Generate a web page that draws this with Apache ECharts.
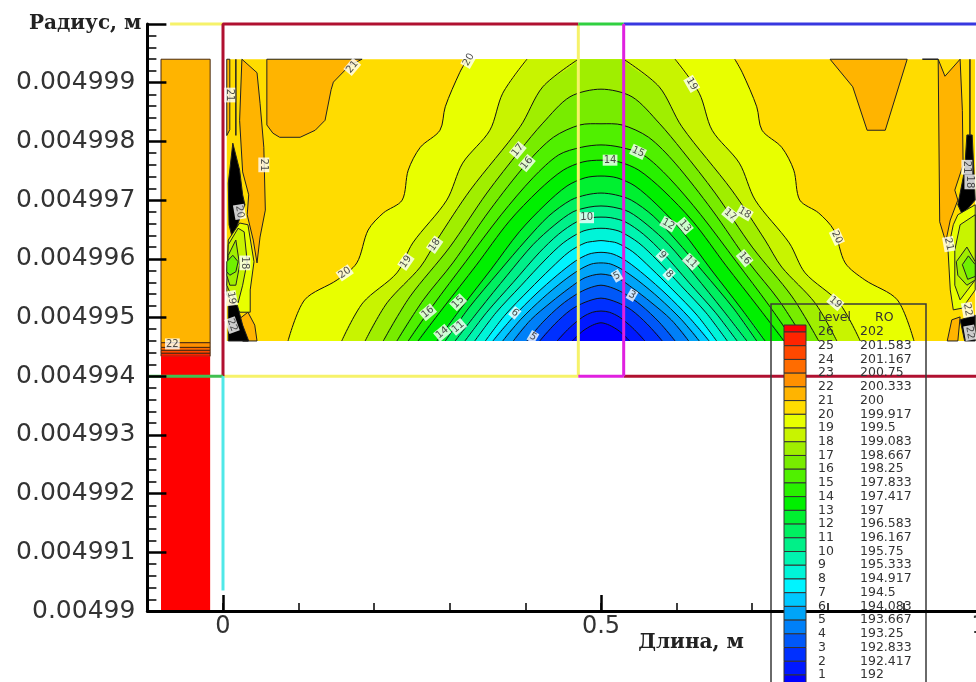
<!DOCTYPE html>
<html><head><meta charset="utf-8">
<style>html,body{margin:0;padding:0;background:#fff;overflow:hidden}#c{width:976px;height:682px}</style>
<script src="https://cdn.jsdelivr.net/npm/echarts@6/dist/echarts.min.js"></script>
</head><body><div id="c"></div>
<script>
// Legend table
const legendLevels=[26,25,24,23,22,21,20,19,18,17,16,15,14,13,12,11,10,9,8,7,6,5,4,3,2,1];
const legendRO=['202','201.583','201.167','200.75','200.333','200','199.917','199.5','199.083','198.667','198.25','197.833','197.417','197','196.583','196.167','195.75','195.333','194.917','194.5','194.083','193.667','193.25','192.833','192.417','192'];
// colour of the band directly below each level (index = level-1), then the band above 26
const bandColors=['#0000ff','#0018ff','#0030ff','#0058f8','#0080f8','#00a4f8','#00c8ff','#00f4ff','#00f4d8','#00f4b0','#00f088','#00f060','#00f030','#00f000','#28f000','#50f000','#78ec00','#a0ee00','#c8f400','#e8ff00','#ffdc00','#ffb400','#ff9000','#ff6c00','#ff4800','#ff2400','#ff0000'];
// Radius values are written as micrometres above 0.00499 m
const radiusBase=0.00499, radiusUnit=1e-6;
// Contours around x=0.5: [half-width in m, radius]
const level20=[[.414,4.6],[.392,5.30],[.349,5.64],[.323,5.93],[.308,6.49],[.288,6.78],[.263,7.00],[.255,7.51],[.239,7.90],[.213,8.19],[.206,8.59],[.187,9.17],[.177,9.4]];
const level19=[[.343,4.6],[.315,5.25],[.270,5.76],[.249,6.27],[.204,7.00],[.183,7.63],[.147,8.19],[.130,8.82],[.098,9.4]];
const level18=[[.312,4.6],[.283,5.25],[.239,5.86],[.217,6.32],[.173,7.17],[.107,8.25],[.077,8.93],[.030,9.4]];
const level17=[[.288,4.6],[.253,5.35],[.200,6.20],[.151,7.12],[.107,7.85],[.077,8.31],[.041,8.76],[0,8.89]];
const level16=[[.270,4.6],[.235,5.30],[.196,5.93],[.147,6.83],[.098,7.63],[.063,8.07],[.028,8.28],[0,8.30]];
const level15=[[.255,4.6],[.222,5.21],[.179,5.95],[.132,6.75],[.090,7.38],[.056,7.77],[.026,7.90],[0,7.94]];
const level14=[[.242,4.6],[.209,5.16],[.165,5.89],[.122,6.63],[.082,7.17],[.050,7.51],[.024,7.65],[0,7.68]];
const level13=[[.217,4.6],[.185,5.16],[.146,5.81],[.108,6.46],[.074,6.92],[.045,7.24],[.021,7.38],[0,7.41]];
const level12=[[.206,4.6],[.175,5.16],[.135,5.78],[.099,6.32],[.069,6.73],[.040,7.00],[.019,7.09],[0,7.12]];
const level11=[[.193,4.6],[.161,5.13],[.124,5.72],[.090,6.24],[.061,6.58],[.037,6.80],[.016,6.88],[0,6.90]];
const level10=[[.180,4.6],[.151,5.09],[.116,5.60],[.082,6.10],[.056,6.42],[.032,6.63],[.013,6.70],[0,6.71]];
const level9=[[.167,4.6],[.139,5.08],[.106,5.54],[.074,5.98],[.050,6.27],[.026,6.46],[.011,6.51],[0,6.52]];
const level8=[[.153,4.6],[.127,5.04],[.095,5.47],[.066,5.84],[.042,6.12],[.021,6.27],[.008,6.30],[0,6.31]];
const level7=[[.143,4.6],[.116,5.01],[.086,5.40],[.058,5.72],[.034,5.96],[.016,6.08],[0,6.11]];
const level6=[[.130,4.6],[.106,4.97],[.077,5.33],[.050,5.62],[.029,5.81],[.013,5.91],[0,5.93]];
const level5=[[.116,4.6],[.093,4.96],[.066,5.26],[.042,5.50],[.024,5.66],[.011,5.72],[0,5.74]];
const level4=[[.098,4.6],[.077,4.92],[.053,5.21],[.032,5.40],[.016,5.50],[0,5.55]];
const level3=[[.081,4.6],[.061,4.89],[.040,5.13],[.021,5.26],[0,5.33]];
const level2=[[.058,4.6],[.042,4.82],[.024,5.01],[.011,5.09],[0,5.11]];
const level1=[[.038,4.6],[.024,4.77],[.011,4.87],[0,4.91]];
const archLevels=[level20,level19,level18,level17,level16,level15,level14,level13,level12,level11,level10,level9,level8,level7,level6,level5,level4,level3,level2,level1];
// Field background and left-hand block: [x,r]
const fieldRect=[[.005,9.4],[.995,9.4],[.995,4.6],[.005,4.6]];
const blockX=[-.082,-.017];
const blockBands=[[9.4,4.57,'#ffb400'],[4.57,4.49,'#ff9000'],[4.49,4.44,'#ff6c00'],[4.44,4.39,'#ff4800'],[4.39,4.34,'#ff2400'],[4.34,0,'#ff0000']];
// Closed contour islands near the ends: [colour, points]
const stripLeft=['#ffb400',[[.005,9.4],[.009,9.4],[.009,8.2],[.005,8.1]]];
const amberTop=['#ffb400',[[.058,9.4],[.058,8.28],[.066,8.14],[.075,8.07],[.102,8.07],[.122,8.19],[.135,8.36],[.143,8.88],[.146,9.01],[.168,9.30],[.184,9.4]]];
const amberLeft=['#ffb400',[[.025,9.4],[.045,9.17],[.049,8.65],[.054,7.9],[.056,6.83],[.049,6.37],[.045,5.93],[.040,6.32],[.032,6.75],[.034,7.09],[.026,7.48],[.022,8.36]]];
const blackLeft=['#000000',[[.013,7.97],[.022,7.51],[.026,7.09],[.029,6.92],[.020,6.61],[.013,6.32],[.008,6.58],[.007,7.29]]];
const greenL1=['#e8ff00',[[.007,6.32],[.022,6.61],[.033,6.58],[.041,5.95],[.036,5.47],[.036,5.09],[.022,5.09],[.012,5.30],[.005,5.38]]];
const greenL2=['#c8f400',[[.007,6.24],[.020,6.52],[.028,6.46],[.032,5.95],[.026,5.55],[.020,5.25],[.009,5.43],[.005,5.55]]];
const greenL3=['#a0ee00',[[.007,6.06],[.017,6.32],[.022,5.89],[.017,5.55],[.009,5.55],[.005,5.72]]];
const greenL4=['#70f000',[[.005,5.95],[.013,6.06],[.020,5.95],[.017,5.78],[.009,5.72],[.005,5.78]]];
const amberLow=['#ffb400',[[.033,5.09],[.042,4.87],[.045,4.6],[.026,4.6],[.020,4.96]]];
const orangeLow=['#ff9000',[[.022,4.99],[.033,4.6],[.026,4.6]]];
const blackLow=['#000000',[[.007,5.21],[.019,5.21],[.026,4.87],[.034,4.6],[.007,4.6]]];
const amberV=['#ffb400',[[.803,9.4],[.833,8.93],[.852,8.19],[.876,8.19],[.905,9.4]]];
const amberRight=['#ffb400',[[.946,9.4],[.955,9.11],[.975,9.4],[.978,8.53],[.979,7.6],[.968,7.17],[.972,7.0],[.962,6.66],[.956,6.29],[.948,6.63]]];
const blackRight=['#000000',[[.984,8.11],[.991,8.11],[.995,7.0],[.978,6.75],[.972,6.92],[.981,7.51]]];
const greenR1=['#e8ff00',[[.972,6.75],[.966,6.58],[.959,6.15],[.962,5.47],[.966,5.13],[.978,5.16],[.995,5.47],[.995,6.92]]];
const greenR2=['#c8f400',[[.975,6.58],[.968,6.15],[.968,5.55],[.975,5.30],[.995,5.64],[.995,6.75]]];
const greenR3=['#a0ee00',[[.970,5.95],[.984,6.2],[.995,5.95],[.995,5.64],[.984,5.55],[.972,5.72]]];
const greenR4=['#70f000',[[.978,5.9],[.986,6.05],[.995,5.9],[.995,5.7],[.985,5.65]]];
const amberLowR=['#ffb400',[[.958,4.6],[.964,4.96],[.975,5.01],[.972,4.6]]];
const blackLowR=['#000000',[[.975,4.96],[.995,5.04],[.995,4.6],[.981,4.6]]];
// Loose contour pieces
const looseContours=[[[.988,9.4],[.988,8.1]],[[.925,9.4],[.946,9.4]],[[.017,9.4],[.017,8.1]]];
// Block outlines: [colour, points]
const outlines=[
 ['#f6f26a',[[-.07,10],[0,10]]],
 ['#f6f26a',[[.47,10],[.47,4]]],
 ['#f6f26a',[[0,4],[.47,4]]],
 ['#b01030',[[0,4],[0,10],[.47,10]]],
 ['#b01030',[[.53,4],[1.1,4]]],
 ['#30d040',[[.47,10],[.53,10]]],
 ['#3838e0',[[.53,10],[1.1,10]]],
 ['#e020e0',[[.53,10],[.53,4]]],
 ['#e020e0',[[.47,4],[.53,4]]],
 ['#40c050',[[-.1,4],[0,4]]],
 ['#50e8e8',[[0,4],[0,.35]]]
];
// Contour labels
const labelTexts=['21','20','19','21','21','20','18','19','22','20','19','18','17','16','14','15','10','15','16','14','11','6','5','5','3','12','13','9','8','11','17','18','16','20','19','21','21','18','22','22','22'];
const labelX=[.171,.325,.620,.009,.054,.022,.029,.011,.012,.161,.242,.280,.390,.402,.512,.549,.481,.311,.271,.290,.311,.386,.410,.521,.541,.589,.611,.581,.590,.619,.671,.690,.690,.812,.810,.960,.984,.988,.985,.988,-.067];
const labelR=[9.27,9.39,8.98,8.79,7.60,6.80,5.93,5.33,4.87,5.76,5.95,6.24,7.85,7.63,7.68,7.82,6.70,5.26,5.09,4.74,4.84,5.08,4.67,5.71,5.38,6.59,6.56,6.06,5.74,5.95,6.75,6.78,6.01,6.37,5.26,6.25,7.56,7.31,5.13,4.74,4.55];
const labelAngle=[50,60,-60,-90,-90,-80,-90,-80,-70,35,55,55,50,50,0,-25,0,45,40,40,40,-40,-30,30,-30,-30,-50,-45,-45,-45,-40,-30,-50,-65,-40,-80,-90,-90,-80,-80,0];
// Axis values
const xMajor=[0,0.5,1];
const xMin=-0.1,xMax=1.1;

const rad=r=>radiusBase+r*radiusUnit;
const toData=p=>[p[0],rad(p[1])];
function poly(pts,fill,stroke){
  const data=pts.map(toData);
  return {type:'custom',coordinateSystem:'cartesian2d',xAxisIndex:0,yAxisIndex:0,z:2,silent:true,clip:false,encode:{x:0,y:1},data,
    renderItem:(p,api)=>p.dataIndex===0?{type:'polygon',shape:{points:data.map(q=>api.coord(q))},style:{fill,stroke:stroke||null,lineWidth:stroke?1:0}}:null};
}
// One arch: filled band below the level, with its contour line, smoothed and cut to the field
function arch(lv,fill){
  const closed=lv[lv.length-1][0]===0;
  const left=lv.map(p=>[0.5-p[0],p[1]]);
  const right=lv.slice(0,closed?-1:lv.length).reverse().map(p=>[0.5+p[0],p[1]]);
  const data=left.concat(right).map(toData);
  // the fill runs a little past the field edge so smoothing cannot round off its corners; the clip trims it
  const overrun=(p,r)=>toData([p[0],r]);
  const fillPts=[overrun(left[0],4.2)].concat(
    closed?[]:[],
    left.map(toData),
    closed?[]:[overrun(left[left.length-1],9.8),overrun(right[0],9.8)],
    right.map(toData),
    [overrun(right[right.length-1],4.2)]);
  return {type:'custom',coordinateSystem:'cartesian2d',xAxisIndex:0,yAxisIndex:0,z:2,silent:true,clip:false,encode:{x:0,y:1},data,
    renderItem:(p,api)=>{
      if(p.dataIndex!==0)return null;
      const a=api.coord(toData(fieldRect[0])),b=api.coord(toData(fieldRect[2]));
      const clipPath={type:'rect',shape:{x:a[0],y:a[1],width:b[0]-a[0],height:b[1]-a[1]}};
      const ln=pts=>({type:'polyline',shape:{points:pts.map(q=>api.coord(q)),smooth:0.3},style:{fill:null,stroke:'#111',lineWidth:1}});
      const lines=closed?[ln(data)]:[ln(left.map(toData)),ln(right.map(toData))];
      return {type:'group',children:[{type:'polygon',clipPath,shape:{points:fillPts.map(q=>api.coord(q)),smooth:0.3},style:{fill,stroke:null}}].concat(lines)};
    }};
}
function line(data,color,width,z){
  return {type:'line',xAxisIndex:0,yAxisIndex:0,data,showSymbol:false,symbol:'none',silent:true,clip:false,z,lineStyle:{color,width,cap:'butt'},emphasis:{disabled:true}};
}
const series=[];
series.push(poly(fieldRect,bandColors[20]));
blockBands.forEach(b=>series.push(poly([[blockX[0],b[0]],[blockX[1],b[0]],[blockX[1],b[1]],[blockX[0],b[1]]],b[2],b[1]>0?'#4a2a10':null)));
[stripLeft,amberTop,amberLeft,amberV,amberRight].forEach(i=>series.push(poly(i[1],i[0],'#222')));
archLevels.forEach((lv,i)=>series.push(arch(lv,bandColors[19-i])));
[blackLeft,greenL1,greenL2,greenL3,greenL4,amberLow,orangeLow,blackLow,blackRight,greenR1,greenR2,greenR3,greenR4,amberLowR,blackLowR].forEach(i=>series.push(poly(i[1],i[0],'#222')));
looseContours.forEach(c=>series.push(line(c.map(toData),'#222',1.5,3)));
outlines.forEach(o=>series.push(line(o[1].map(toData),o[0],3,4)));
series.push({type:'scatter',xAxisIndex:0,yAxisIndex:0,symbolSize:0,silent:true,z:6,
  data:labelTexts.map((t,i)=>({value:[labelX[i],rad(labelR[i])],label:{show:true,position:'inside',formatter:t,rotate:labelAngle[i],fontFamily:'DejaVu Sans',fontSize:10,color:'#222',backgroundColor:'#fff',padding:[1,1,0,1]}}))});

// Legend
const elements=[];
const rowY=i=>332+13.72*i;
elements.push({type:'rect',z:5,shape:{x:771,y:304,width:155,height:400},style:{fill:'transparent',stroke:'#3a3a3a',lineWidth:1.5}});
elements.push({type:'text',z:5,x:818,y:318,style:{text:'Level',font:'12.5px "DejaVu Sans"',fill:'#333',verticalAlign:'middle'}});
elements.push({type:'text',z:5,x:875,y:318,style:{text:'RO',font:'12.5px "DejaVu Sans"',fill:'#333',verticalAlign:'middle'}});
elements.push({type:'rect',z:20,shape:{x:784,y:325,width:22,height:7},style:{fill:bandColors[26],stroke:'#333',lineWidth:1}});
legendLevels.forEach((lv,i)=>{
  elements.push({type:'rect',z:20,shape:{x:784,y:rowY(i),width:22,height:13.72},style:{fill:bandColors[lv-1],stroke:'#333',lineWidth:1}});
  elements.push({type:'text',z:5,x:818,y:rowY(i),style:{text:String(lv),font:'12.5px "DejaVu Sans"',fill:'#333',verticalAlign:'middle'}});
  elements.push({type:'text',z:5,x:860,y:rowY(i),style:{text:legendRO[i],font:'12.5px "DejaVu Sans"',fill:'#333',verticalAlign:'middle'}});
});

const chart=echarts.init(document.getElementById('c'),null,{renderer:'canvas'});
chart.setOption({
  animation:false,backgroundColor:'#fff',
  grid:{left:147.4,top:24,width:907.2,height:587,containLabel:false,outerBoundsMode:'none'},
  tooltip:{show:false},
  xAxis:[
    {type:'value',position:'bottom',min:xMin,max:xMax,interval:0.1,z:10,splitLine:{show:false},
     axisLine:{show:true,onZero:false,lineStyle:{color:'#000',width:3}},
     axisTick:{show:true,inside:true,length:8,lineStyle:{color:'#000',width:1.5}},axisLabel:{show:false}},
    {type:'value',position:'bottom',min:xMin,max:xMax,z:10,splitLine:{show:false},
     name:'Длина, м',nameLocation:'middle',nameGap:22,nameMoveOverlap:false,
     nameTextStyle:{fontFamily:'DejaVu Serif',fontWeight:'bold',fontSize:20,color:'#222',padding:[0,0,0,180]},
     axisLine:{show:false,onZero:false},
     axisTick:{show:true,inside:true,length:16,customValues:xMajor,lineStyle:{color:'#000',width:2.5}},
     axisLabel:{show:true,customValues:xMajor,formatter:v=>String(v),fontFamily:'DejaVu Sans',fontSize:24,color:'#333',margin:4,hideOverlap:false}}
  ],
  yAxis:{type:'value',min:0.00499,max:0.005,interval:0.000001,z:10,splitLine:{show:false},
    name:'Радиус, м',nameLocation:'end',nameGap:0,
    nameTextStyle:{fontFamily:'DejaVu Serif',fontWeight:'bold',fontSize:20,color:'#222',align:'right',verticalAlign:'middle',padding:[0,6,0,0]},
    axisLine:{show:true,onZero:false,lineStyle:{color:'#000',width:3}},
    axisTick:{show:true,inside:true,length:19,lineStyle:{color:'#000',width:2.5}},
    minorTick:{show:true,splitNumber:5,length:9,lineStyle:{color:'#000',width:1.5}},
    axisLabel:{show:true,margin:12,fontFamily:'DejaVu Sans',fontSize:25,color:'#333',
      formatter:v=>{const s=String(+v.toFixed(6));return s==='0.005'?'':s;}}},
  series,
  graphic:{elements}
});
</script></body></html>
